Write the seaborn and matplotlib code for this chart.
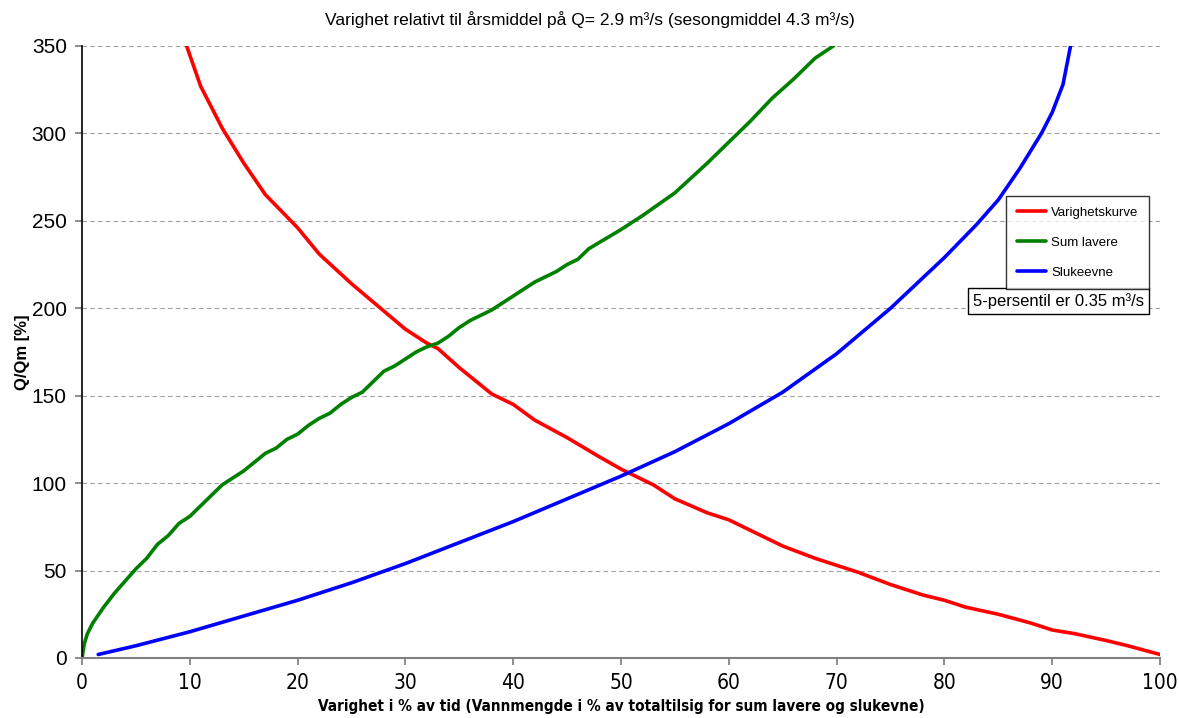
import pandas as pd
import matplotlib.pyplot as plt
import seaborn as sns

# Varighetskurve (red)
red_x = [9.0, 9.7, 11, 13, 15, 17, 20, 22, 25, 27.5, 30, 32, 33, 35, 38, 40, 42, 45, 48, 50,
         53, 55, 58, 60, 62, 65, 68, 70, 72, 75, 78, 80, 82, 85, 88, 90, 92, 95, 97, 100]
red_y = [365, 350, 327, 303, 283, 265, 246, 231, 214, 201, 188, 180, 177, 166, 151, 145, 136, 126, 115, 108,
         99, 91, 83, 79, 73, 64, 57, 53, 49, 42, 36, 33, 29, 25, 20, 16, 14, 10, 7, 2]

# Sum lavere (green)
green_x = [0, 0.2, 0.5, 1, 2, 3, 4, 5, 6, 7, 8, 9, 10, 11, 12, 13, 14, 15, 16, 17, 18, 19, 20, 21,
           22, 23, 24, 25, 26, 27, 28, 29, 30, 31, 32, 33, 34, 35, 36, 38, 40, 42, 44, 45, 46, 47,
           50, 52, 55, 58, 60, 62, 64, 66, 68, 69.7, 70.5]
green_y = [0, 8, 14, 20, 29, 37, 44, 51, 57, 65, 70, 77, 81, 87, 93, 99, 103, 107, 112, 117, 120, 125, 128, 133,
           137, 140, 145, 149, 152, 158, 164, 167, 171, 175, 178, 180, 184, 189, 193, 199, 207, 215, 221, 225, 228, 234,
           245, 253, 266, 283, 295, 307, 320, 331, 343, 350, 356]

# Slukeevne (blue)
blue_x = [1.5, 5, 10, 15, 20, 25, 30, 35, 40, 45, 50, 55, 60, 65, 70, 75, 80, 83, 85, 87, 89, 90, 91, 91.7, 92.3]
blue_y = [2, 7, 15, 24, 33, 43, 54, 66, 78, 91, 104, 118, 134, 152, 174, 200, 229, 248, 262, 280, 300, 312, 328, 350, 365]

series = ["Varighetskurve", "Sum lavere", "Slukeevne"]
colors = ["#ff0000", "#008000", "#0000ff"]
x_ticks = list(range(0, 101, 10))
y_ticks = list(range(0, 351, 50))

sns.set_theme(style="white")
plt.rcParams['font.family'] = ['Liberation Sans', 'DejaVu Sans']
plt.rcParams.update({'text.color': 'black', 'axes.labelcolor': 'black',
                     'xtick.labelcolor': 'black', 'ytick.labelcolor': 'black'})

fig = plt.figure(figsize=(11.79, 7.18), dpi=100)
ax = fig.add_axes([0.0696, 0.0836, 0.9143, 0.8524])

for name, xs, ys, c in zip(series, [red_x, green_x, blue_x], [red_y, green_y, blue_y], colors):
    df = pd.DataFrame({"x": xs, "y": ys})
    sns.lineplot(data=df, x="x", y="y", ax=ax, color=c, linewidth=2.6, sort=False,
                 label=name, estimator=None)

ax.set_xlim(0, 100)
ax.set_ylim(0, 350)
ax.set_xticks(x_ticks, [str(t) for t in x_ticks], family='DejaVu Sans', stretch='condensed')
ax.set_yticks(y_ticks)
ax.yaxis.grid(True, linestyle=(0, (4, 3)), color="#a0a0a0", linewidth=0.8)
ax.xaxis.grid(False)
for s in ["top", "right"]:
    ax.spines[s].set_visible(False)
ax.spines["left"].set_color("black")
ax.spines["left"].set_linewidth(1.2)
ax.spines["bottom"].set_color("#808080")
ax.spines["bottom"].set_linewidth(1.5)
ax.tick_params(axis="y", which="both", left=True, length=5, color="#808080", labelsize=15, pad=6,
               labelcolor="black")
ax.tick_params(axis="x", which="both", bottom=True, length=5, color="#808080", labelsize=15, pad=6,
               labelcolor="black")

ax.set_xlabel("Varighet i % av tid (Vannmengde i % av totaltilsig for sum lavere og slukevne)",
              fontsize=11, fontweight="bold", labelpad=4, family='DejaVu Sans', stretch='condensed',
              color="black")
ax.set_ylabel("Q/Qm [%]", fontsize=12, fontweight="bold", labelpad=1, color="black")
fig.suptitle("Varighet relativt til årsmiddel på Q= 2.9 m³/s (sesongmiddel 4.3 m³/s)",
             fontsize=12.5, x=0.5, y=0.985, color="black")

leg = ax.legend(loc="upper right", bbox_to_anchor=(0.99, 0.755), fontsize=9.5, frameon=True,
                fancybox=False, edgecolor="black", handlelength=2.2, labelspacing=1.35,
                borderpad=0.8, handletextpad=0.4, borderaxespad=0, labelcolor="black")
leg.get_frame().set_linewidth(1.0)

ax.text(0.906, 0.583, "5-persentil er 0.35 m³/s", transform=ax.transAxes, ha="center", va="center",
        fontsize=12, color="black",
        bbox=dict(boxstyle="square,pad=0.3", facecolor="white", edgecolor="black", linewidth=1.0))

fig.savefig("out.png", dpi=100)
